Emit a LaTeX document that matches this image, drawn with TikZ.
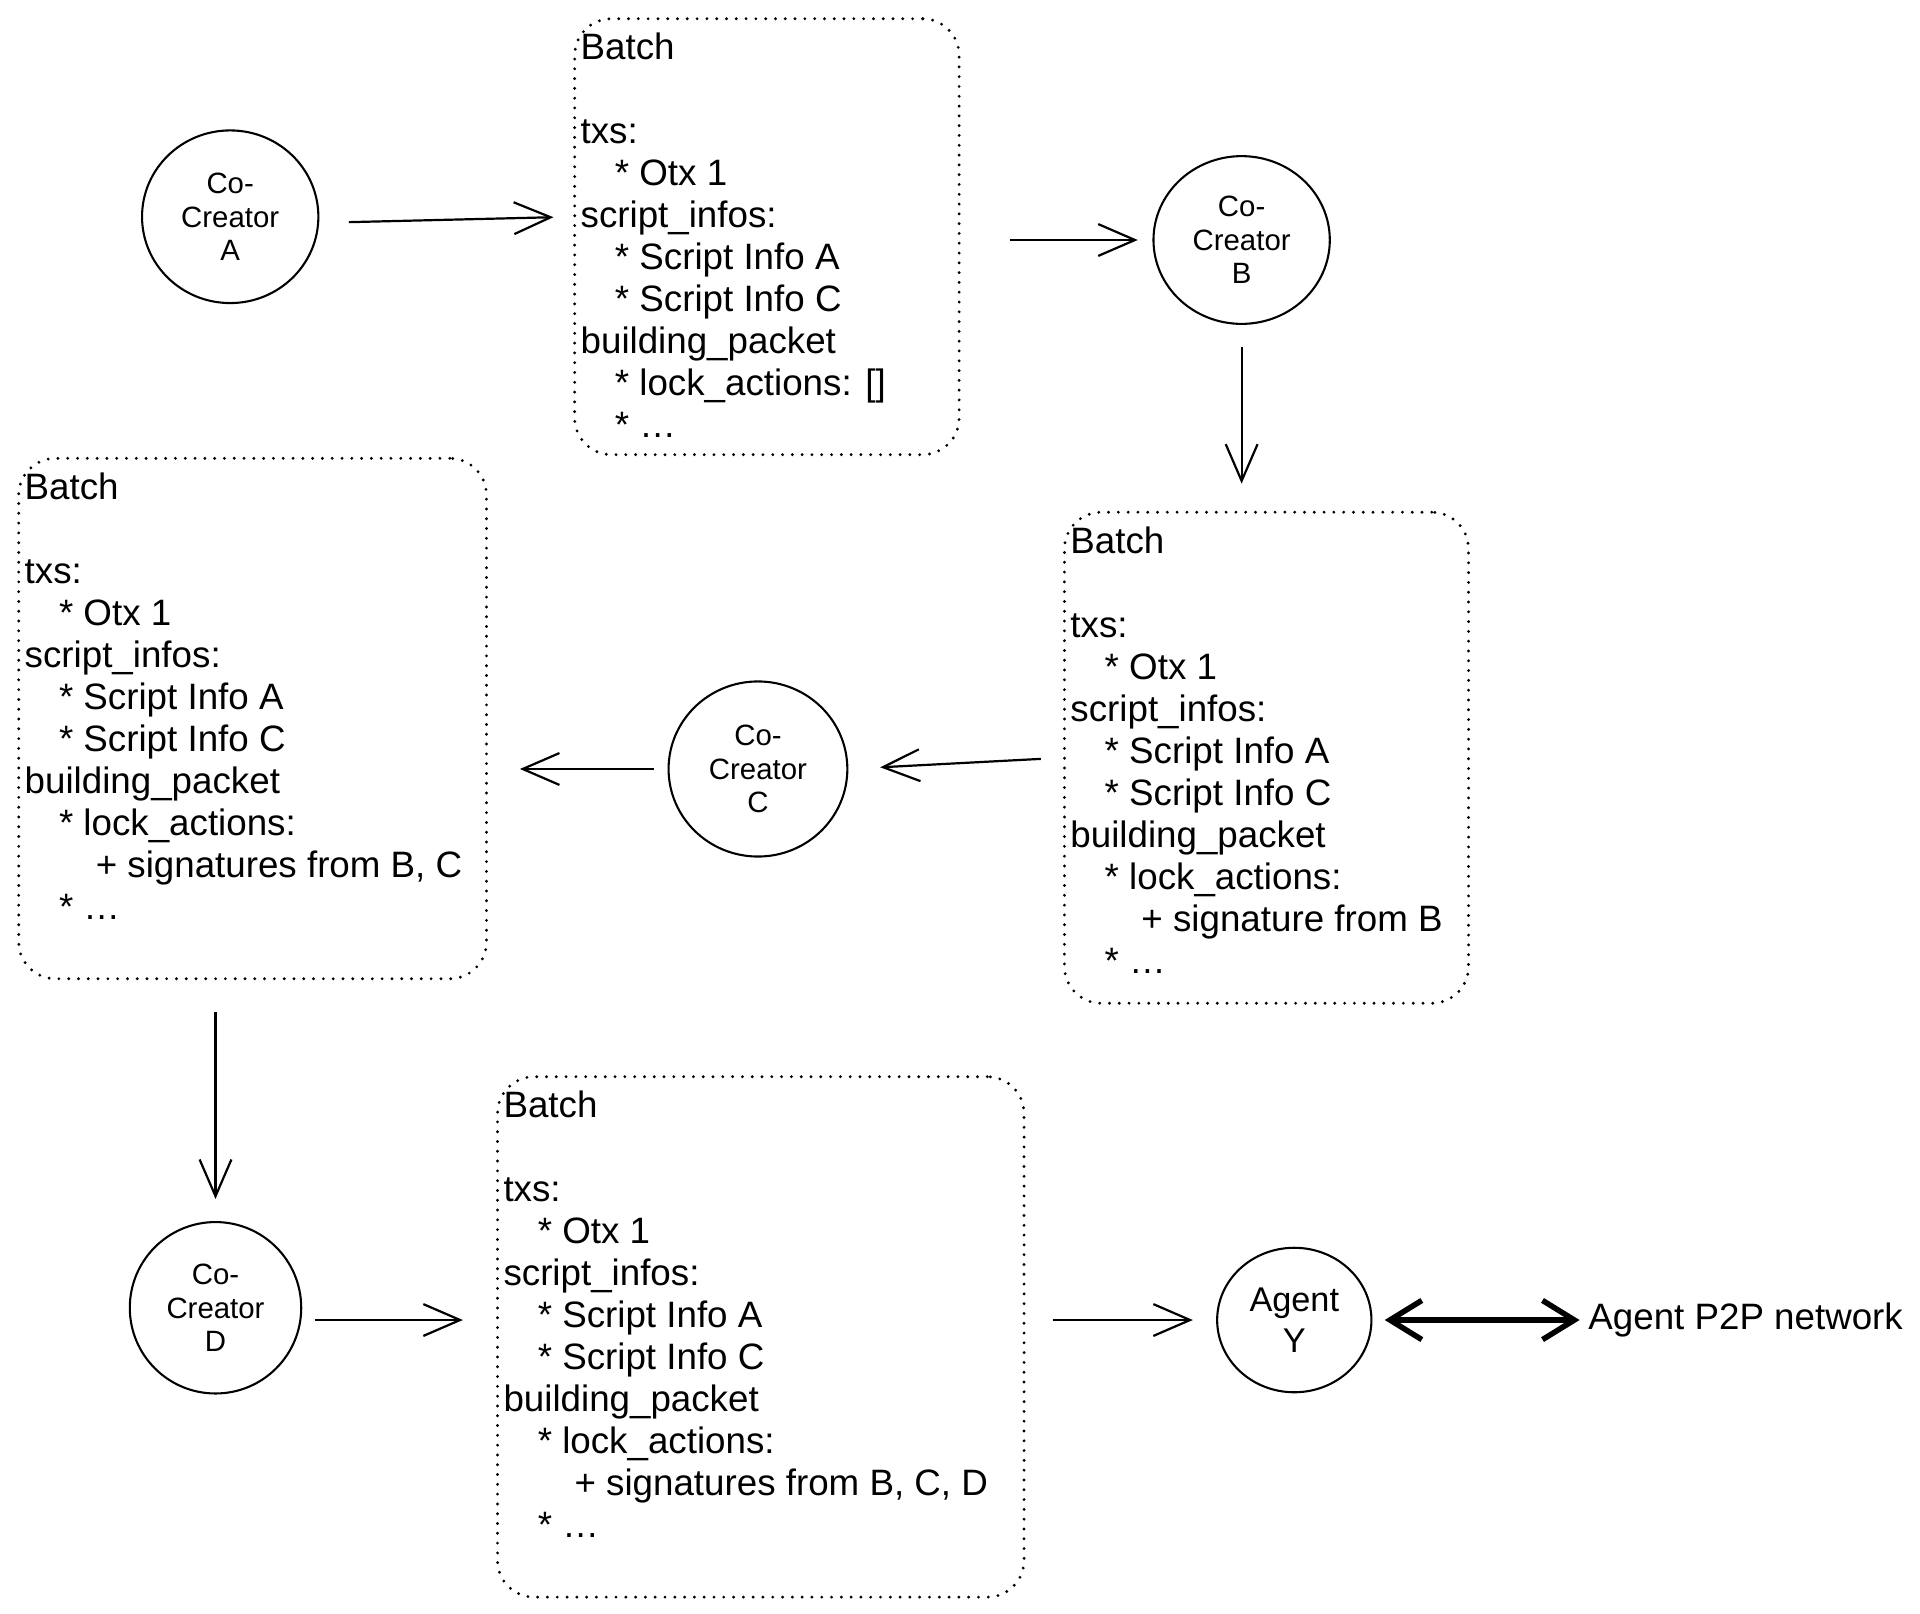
\documentclass[tikz,border=0pt]{standalone}
\usepackage{fontspec}
\setmainfont{Liberation Sans}
\usetikzlibrary{arrows.meta}
\usetikzlibrary{positioning}
\usetikzlibrary{shapes.geometric}
\tikzset{creator/.style = {ellipse, draw, line width=1.7pt, inner sep=0pt, align=center,
                           font=\fontsize{24}{27.5}\selectfont},
         batch/.style = {draw, rounded corners=30pt, line width=2.6pt, line cap=round,
                         dash pattern=on 0pt off 8pt, anchor=north west},
         batchtext/.style = {align=left, inner sep=0pt,
                             font=\fontsize{30}{34.3}\selectfont},
         flow/.style = {line width=1.8pt,
                        -{Straight Barb[length=30pt, width=26pt, line width=1.8pt]}},
         p2p/.style = {line width=4.5pt,
                       {Straight Barb[length=26pt, width=32pt]}-{Straight Barb[length=26pt, width=32pt]}}}
\newcommand{\lvlone}{\hspace*{28pt}}
\newcommand{\lvltwo}{\hspace*{58pt}}

\begin{document}
\begin{tikzpicture}[x=1pt, y=-1pt]
    \useasboundingbox (0, 0) rectangle (1568, 1318);
    % co-creators and agent
    \node (circA) at (188, 177) [creator, minimum width=144pt, minimum height=141pt] {Co-\\Creator\\A};
    \node (circB) at (1014, 196) [creator, minimum width=144pt, minimum height=137pt] {Co-\\Creator\\B};
    \node (circC) at (619, 628) [creator, minimum width=146pt, minimum height=143pt] {Co-\\Creator\\C};
    \node (circD) at (176, 1068) [creator, minimum width=140pt, minimum height=140pt] {Co-\\Creator\\D};
    \node (agentY) at (1057, 1078) [creator, font=\fontsize{28}{33}\selectfont,
                                    minimum width=126pt, minimum height=118pt] {Agent\\Y};
    \node (network) at (1297, 1078) [anchor=west, inner sep=0pt, font=\fontsize{30}{36}\selectfont] {Agent P2P network};
    % batches
    \node (batch1) at (468, 14) [batch, minimum width=314pt, minimum height=356pt] {};
    \node (batch1txt) [batchtext, below right=13pt and 6pt of batch1.north west]
      {Batch\\[34.3pt]
       txs:\\
       \lvlone * Otx 1\\
       script\_infos:\\
       \lvlone * Script Info A\\
       \lvlone * Script Info C\\
       building\_packet\\
       \lvlone * lock\_actions: []\\
       \lvlone * \dots};
    \node (batch2) at (868, 417) [batch, minimum width=330pt, minimum height=401pt] {};
    \node (batch2txt) [batchtext, below right=13pt and 6pt of batch2.north west]
      {Batch\\[34.3pt]
       txs:\\
       \lvlone * Otx 1\\
       script\_infos:\\
       \lvlone * Script Info A\\
       \lvlone * Script Info C\\
       building\_packet\\
       \lvlone * lock\_actions:\\
       \lvltwo + signature from B\\
       \lvlone * \dots};
    \node (batch3) at (14, 373) [batch, minimum width=382pt, minimum height=425pt] {};
    \node (batch3txt) [batchtext, below right=13pt and 6pt of batch3.north west]
      {Batch\\[34.3pt]
       txs:\\
       \lvlone * Otx 1\\
       script\_infos:\\
       \lvlone * Script Info A\\
       \lvlone * Script Info C\\
       building\_packet\\
       \lvlone * lock\_actions:\\
       \lvltwo + signatures from B, C\\
       \lvlone * \dots};
    \node (batch4) at (405, 878) [batch, minimum width=430pt, minimum height=425pt] {};
    \node (batch4txt) [batchtext, below right=13pt and 6pt of batch4.north west]
      {Batch\\[34.3pt]
       txs:\\
       \lvlone * Otx 1\\
       script\_infos:\\
       \lvlone * Script Info A\\
       \lvlone * Script Info C\\
       building\_packet\\
       \lvlone * lock\_actions:\\
       \lvltwo + signatures from B, C, D\\
       \lvlone * \dots};
    % hand-over arrows
    \draw [flow, shorten <=24pt, shorten >=16pt] ([yshift=-5pt]circA.east) -- (circA.east -| batch1.west);
    \draw [flow, shorten <=40pt, shorten >=12pt] (batch1.east |- circB.west) -- (circB.west);
    \draw [flow, shorten <=18pt, shorten >=22pt] (circB.south) -- (circB.south |- batch2.north);
    \draw [flow, shorten <=18pt, shorten >=26pt] (batch2.west) -- (circC.east);
    \draw [flow, shorten <=11pt, shorten >=26pt] (circC.west) -- (circC.west -| batch3.east);
    \draw [flow, shorten <=26pt, shorten >=18pt] (circD.north |- batch3.south) -- (circD.north);
    \draw [flow, shorten <=10pt, shorten >=27pt] ([yshift=-10pt]circD.east) -- ([yshift=-10pt]circD.east -| batch4.west);
    \draw [flow, shorten <=22pt, shorten >=19pt] (batch4.east |- agentY.west) -- (agentY.west);
    \draw [p2p, shorten <=10pt, shorten >=7pt] (agentY.east) -- (agentY.east -| network.west);
\end{tikzpicture}
\end{document}
